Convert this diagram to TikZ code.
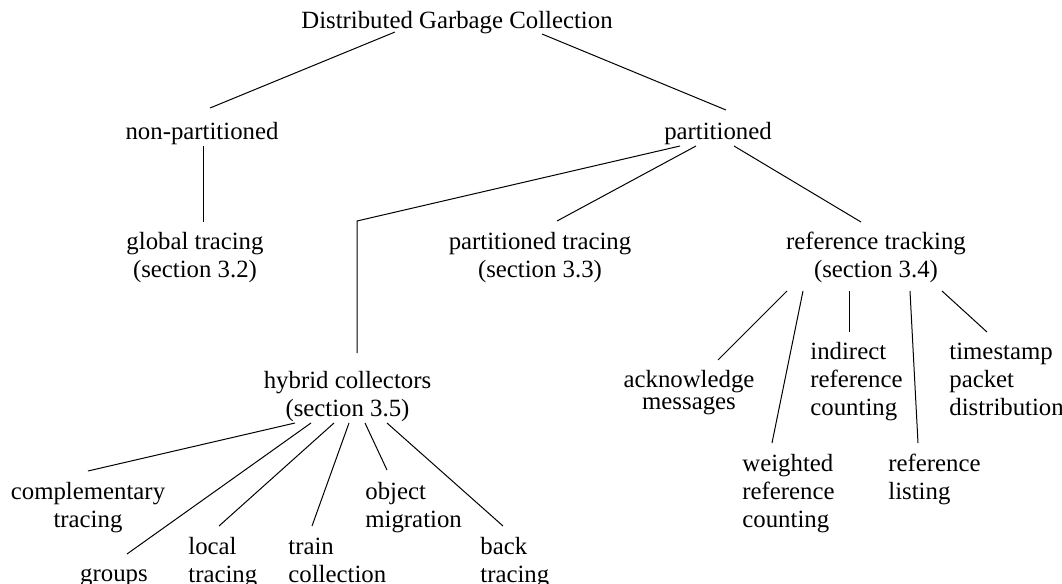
\documentclass[tikz,border=0pt]{standalone}
\usepackage{fontspec}
\setmainfont{Liberation Serif}
\newcommand\cstk[1]{\begin{tabular}[t]{@{}c@{}}#1\end{tabular}}
\newcommand\lstk[1]{\begin{tabular}[t]{@{}l@{}}#1\end{tabular}}
\begin{document}
\begin{tikzpicture}[x=0.5pt,y=-0.5pt,
  lbl/.style={inner sep=0pt, font=\fontsize{12.4pt}{14pt}\selectfont},
  cl/.style={lbl, anchor=base},
  ll/.style={lbl, anchor=base west},
  conn/.style={line width=0.5pt, black}]
\fill[white] (0,0) rectangle (1062,584);
\useasboundingbox (0,0) rectangle (1062,584);

% level 0/1
\node[cl] (dgc) at (457,28) {Distributed Garbage Collection};
\node[cl] (np) at (202,139) {non-partitioned};
\node[cl] (pa) at (718,139) {partitioned};

% level 2
\node[cl] (gt) at (195,249) {\cstk{global tracing\\(section 3.2)}};
\node[cl] (pt) at (540,249) {\cstk{partitioned tracing\\(section 3.3)}};
\node[cl] (rt) at (876,249) {\cstk{reference tracking\\(section 3.4)}};
\node[cl] (hy) at (347.5,388) {\cstk{hybrid collectors\\(section 3.5)}};

% reference tracking children
\node[cl] (ack) at (689,387) {\renewcommand\arraystretch{0.82}\cstk{acknowledge\\messages}};
\node[ll] (wrc) at (742,471) {\lstk{weighted\\reference\\counting}};
\node[ll] (irc) at (810,359) {\lstk{indirect\\reference\\counting}};
\node[ll] (rl) at (888,471) {\lstk{reference\\listing}};
\node[ll] (tpd) at (949,359) {\lstk{timestamp\\packet\\distribution}};

% hybrid children
\node[cl] (ct) at (88,499) {\cstk{complementary\\tracing}};
\node[cl] (gr) at (114,581) {groups};
\node[ll] (lt) at (188,554) {\lstk{local\\tracing}};
\node[ll] (tc) at (288,554) {\lstk{train\\collection}};
\node[ll] (om) at (365,499) {\lstk{object\\migration}};
\node[ll] (bt) at (480,554) {\lstk{back\\tracing}};

% connectors
\draw[conn] ([shift={(-62,4)}]dgc.base) -- ([shift={(8,-31)}]np.base);
\draw[conn] ([shift={(85,6)}]dgc.base) -- ([shift={(8,-29)}]pa.base);
\draw[conn] ([shift={(1,7)}]np.base) -- ([shift={(8,-27)}]gt.base);
\coordinate (bend) at ([shift={(9.5,-167)}]hy.base);
\draw[conn] ([shift={(-38,7)}]pa.base) -- (bend) -- ([shift={(9.5,-35)}]hy.base);
\draw[conn] ([shift={(-22,7)}]pa.base) -- ([shift={(17,-28)}]pt.base);
\draw[conn] ([shift={(16,7)}]pa.base) -- ([shift={(-15,-27)}]rt.base);

\draw[conn] ([shift={(-89,42)}]rt.base) -- ([shift={(29,-27)}]ack.base);
\draw[conn] ([shift={(-73,42)}]rt.base) -- ([shift={(30,-28)}]wrc.base west);
\draw[conn] ([shift={(-27,42)}]rt.base) -- ([shift={(39,-27)}]irc.base west);
\draw[conn] ([shift={(34,42)}]rt.base) -- ([shift={(30,-28)}]rl.base west);
\draw[conn] ([shift={(66,42)}]rt.base) -- ([shift={(38,-27)}]tpd.base west);

\draw[conn] ([shift={(-52.5,35)}]hy.base) -- ([shift={(0,-28)}]ct.base);
\draw[conn] ([shift={(-36.5,35)}]hy.base) -- ([shift={(13,-27)}]gr.base);
\draw[conn] ([shift={(-13.5,35)}]hy.base) -- ([shift={(31,-28)}]lt.base west);
\draw[conn] ([shift={(1.5,35)}]hy.base) -- ([shift={(24,-28)}]tc.base west);
\draw[conn] ([shift={(17.5,35)}]hy.base) -- ([shift={(22,-29)}]om.base west);
\draw[conn] ([shift={(39.5,35)}]hy.base) -- ([shift={(23,-28)}]bt.base west);
\end{tikzpicture}
\end{document}
